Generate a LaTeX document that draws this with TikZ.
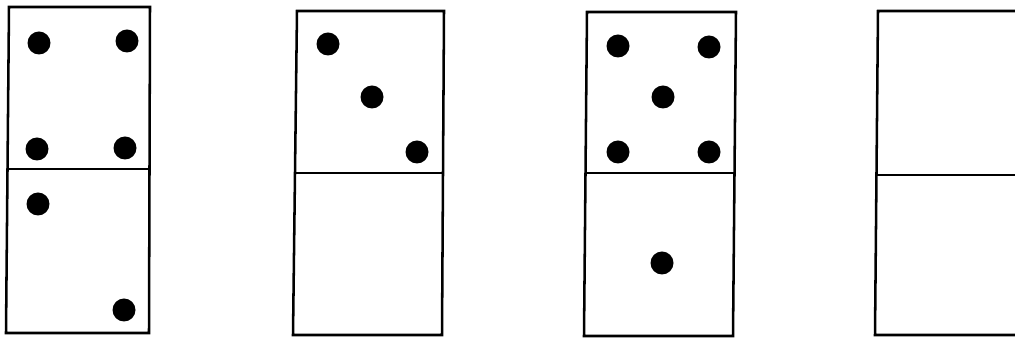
\documentclass[tikz,border=0pt]{standalone}
\begin{document}
\begin{tikzpicture}[x=0.025cm,y=-0.025cm,
  edge/.style={line width=1.8pt,line join=miter},
  pip/.style={fill=black,draw=none}]
\useasboundingbox (0,0) rectangle (1015,339);
% domino 1
\draw[edge] (9,7) -- (150,7) -- (149,333) -- (6,333) -- cycle;
\draw[edge] (8,169) -- (150,169);
\foreach \x/\y in {39/43,127/41,37/149,125/148,38/204,124/310}
  \fill[pip] (\x,\y) circle (11.5);
% domino 2
\draw[edge] (297,11) -- (444,11) -- (442,335) -- (293,335) -- cycle;
\draw[edge] (295,173) -- (443,173);
\foreach \x/\y in {328/44,372/97,417/152}
  \fill[pip] (\x,\y) circle (11.5);
% domino 3
\draw[edge] (587,12) -- (736,12) -- (733,336) -- (584,336) -- cycle;
\draw[edge] (586,173) -- (735,173);
\foreach \x/\y in {618/46,709/47,663/97,618/152,709/152,662/263}
  \fill[pip] (\x,\y) circle (11.5);
% domino 4 (cut off at the right)
\draw[edge] (1016,11) -- (878,11) -- (875,335) -- (1016,335);
\draw[edge] (877,175) -- (1016,175);
\end{tikzpicture}
\end{document}
